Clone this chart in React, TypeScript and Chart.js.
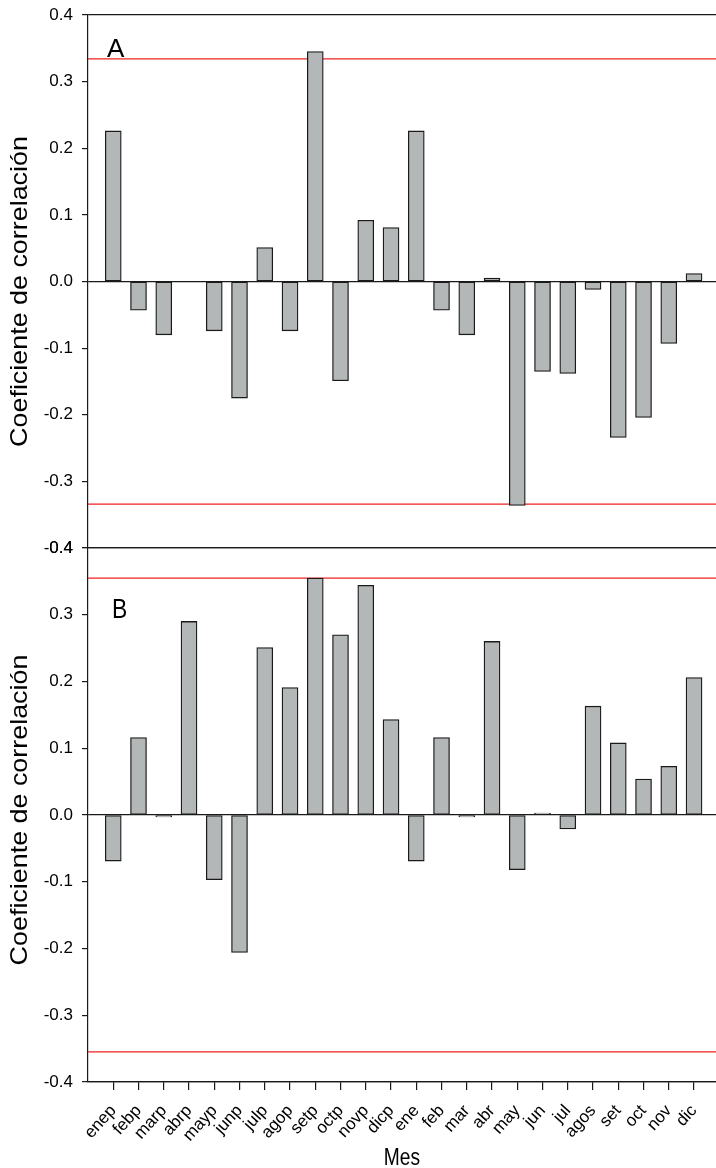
import { useEffect, useRef } from 'react';
import { Chart, registerables } from 'chart.js';

Chart.register(...registerables);

const FONT = '"Liberation Sans", Arial, Helvetica, sans-serif';

// Months: previous year (suffix p) then current year
const months = [
  'enep', 'febp', 'marp', 'abrp', 'mayp', 'junp', 'julp', 'agop', 'setp', 'octp', 'novp', 'dicp',
  'ene', 'feb', 'mar', 'abr', 'may', 'jun', 'jul', 'agos', 'set', 'oct', 'nov', 'dic',
];

// Panel A correlation coefficients
const corrA = [
  0.226, -0.043, -0.080, 0.0, -0.074, -0.175, 0.051, -0.074, 0.345, -0.149, 0.092, 0.081,
  0.226, -0.043, -0.080, 0.005, -0.336, -0.135, -0.138, -0.012, -0.234, -0.204, -0.093, 0.012,
];

// Panel B correlation coefficients
const corrB = [
  -0.069, 0.116, -0.003, 0.290, -0.097, -0.206, 0.251, 0.191, 0.355, 0.270, 0.344, 0.143,
  -0.069, 0.116, -0.003, 0.260, -0.082, 0.003, -0.021, 0.163, 0.108, 0.054, 0.073, 0.206,
];

// Significance limits (±)
const limitA = 0.334;
const limitB = 0.355;

// Y axis ticks
const yTicks = [-0.4, -0.3, -0.2, -0.1, 0.0, 0.1, 0.2, 0.3, 0.4];

const BAR_FILL = '#b4b7b7';
const BAR_EDGE = '#1a1a1a';
const RED = '#f02020';
const X_MAX = 24.87;

type TextItem = {
  text: string;
  x: number;
  y: number;
  size: number;
  rotate?: number;
  sx?: number;
  align?: CanvasTextAlign;
};

// Draws free-standing text (panel letters, axis titles)
const freeText = {
  id: 'freeText',
  afterDraw(chart: any, _args: any, opts: any) {
    const items: TextItem[] = (opts && opts.items) || [];
    const ctx: CanvasRenderingContext2D = chart.ctx;
    for (const it of items) {
      ctx.save();
      ctx.translate(it.x, it.y);
      if (it.rotate) ctx.rotate(it.rotate);
      ctx.scale(it.sx ?? 1, 1);
      ctx.font = `${it.size}px ${FONT}`;
      ctx.fillStyle = '#000';
      ctx.textAlign = it.align ?? 'left';
      ctx.textBaseline = 'alphabetic';
      ctx.fillText(it.text, 0, 0);
      ctx.restore();
    }
  },
};

function isFrameValue(v: number) {
  return Math.abs(v) < 1e-9 || Math.abs(Math.abs(v) - 0.4) < 1e-9;
}

function yScale() {
  return {
    type: 'linear',
    min: -0.4,
    max: 0.4,
    afterFit: (s: any) => {
      s.width = 88;
      s.paddingTop = 0;
      s.paddingBottom = 0;
    },
    afterBuildTicks: (s: any) => {
      s.ticks = yTicks.map((v) => ({ value: v }));
    },
    ticks: {
      callback: (v: any) => Number(v).toFixed(1),
      font: { size: 17, family: FONT },
      color: '#000',
      padding: 9,
    },
    grid: {
      color: (c: any) => (c.tick && isFrameValue(c.tick.value) ? '#1a1a1a' : 'rgba(0,0,0,0)'),
      tickColor: '#1a1a1a',
      tickLength: 6,
      lineWidth: 1.2,
    },
    border: { color: '#1a1a1a', width: 1.2 },
  };
}

function limitLines(limit: number) {
  return [limit, -limit].map((y) => ({
    type: 'line',
    data: [
      { x: 0, y },
      { x: X_MAX, y },
    ],
    borderColor: RED,
    borderWidth: 1.2,
    pointRadius: 0,
    order: 2,
  }));
}

function bars(values: number[]) {
  return {
    type: 'bar',
    data: values.map((v, i) => ({ x: i + 1, y: v })),
    backgroundColor: BAR_FILL,
    borderColor: BAR_EDGE,
    borderWidth: 1.3,
    borderSkipped: false,
    barThickness: 16,
    order: 1,
  };
}

function yTitle(y: number): TextItem {
  return {
    text: 'Coeficiente de correlación',
    x: 27,
    y,
    size: 24,
    rotate: -Math.PI / 2,
    sx: 1.12,
    align: 'center',
  };
}

function configA(): any {
  return {
    type: 'bar',
    data: { datasets: [bars(corrA), ...limitLines(limitA)] },
    options: {
      responsive: false,
      animation: false,
      events: [],
      layout: { padding: { top: 15, bottom: 12, left: 0, right: 0 } },
      plugins: {
        legend: { display: false },
        tooltip: { enabled: false },
        freeText: { items: [{ text: 'A', x: 107, y: 57, size: 26 }, yTitle(291.5)] },
      },
      scales: {
        x: { type: 'linear', min: 0, max: X_MAX, offset: false, display: false },
        y: yScale(),
      },
    },
    plugins: [freeText],
  };
}

function configB(): any {
  return {
    type: 'bar',
    data: { datasets: [bars(corrB), ...limitLines(limitB)] },
    options: {
      responsive: false,
      animation: false,
      events: [],
      layout: { padding: { top: 18, bottom: 0, left: 0, right: 0 } },
      plugins: {
        legend: { display: false },
        tooltip: { enabled: false },
        freeText: {
          items: [
            { text: 'B', x: 112, y: 88, size: 27, sx: 0.85 },
            yTitle(280),
            { text: 'Mes', x: 402, y: 635, size: 24, sx: 0.8, align: 'center' },
          ],
        },
      },
      scales: {
        x: {
          type: 'linear',
          position: 'bottom',
          min: 0,
          max: X_MAX,
          offset: false,
          afterBuildTicks: (s: any) => {
            s.ticks = months.map((_, i) => ({ value: i + 1 }));
          },
          afterFit: (s: any) => {
            s.height = 86;
            s.paddingLeft = 0;
            s.paddingRight = 0;
          },
          ticks: {
            autoSkip: false,
            minRotation: 48,
            maxRotation: 48,
            padding: 11,
            font: { size: 17, family: FONT },
            color: '#000',
            callback: (v: any) => months[Math.round(Number(v)) - 1],
          },
          grid: {
            offset: false,
            drawOnChartArea: false,
            tickLength: 8,
            color: '#1a1a1a',
            lineWidth: 1.2,
          },
          border: { color: '#1a1a1a', width: 1.2 },
        },
        y: yScale(),
      },
    },
    plugins: [freeText],
  };
}

function Panel({ top, height, make }: { top: number; height: number; make: () => any }) {
  const ref = useRef<HTMLCanvasElement | null>(null);
  useEffect(() => {
    if (!ref.current) return;
    const chart = new Chart(ref.current, make());
    return () => chart.destroy();
  }, [make]);
  return (
    <canvas
      ref={ref}
      width={716}
      height={height}
      style={{ position: 'absolute', left: 0, top, width: 716, height }}
    />
  );
}

export default function App() {
  return (
    <div
      style={{
        position: 'absolute',
        left: 0,
        top: 0,
        width: 716,
        height: 1168,
        background: '#fff',
        overflow: 'hidden',
      }}
    >
      <Panel top={0} height={560} make={configA} />
      <Panel top={530} height={638} make={configB} />
    </div>
  );
}
